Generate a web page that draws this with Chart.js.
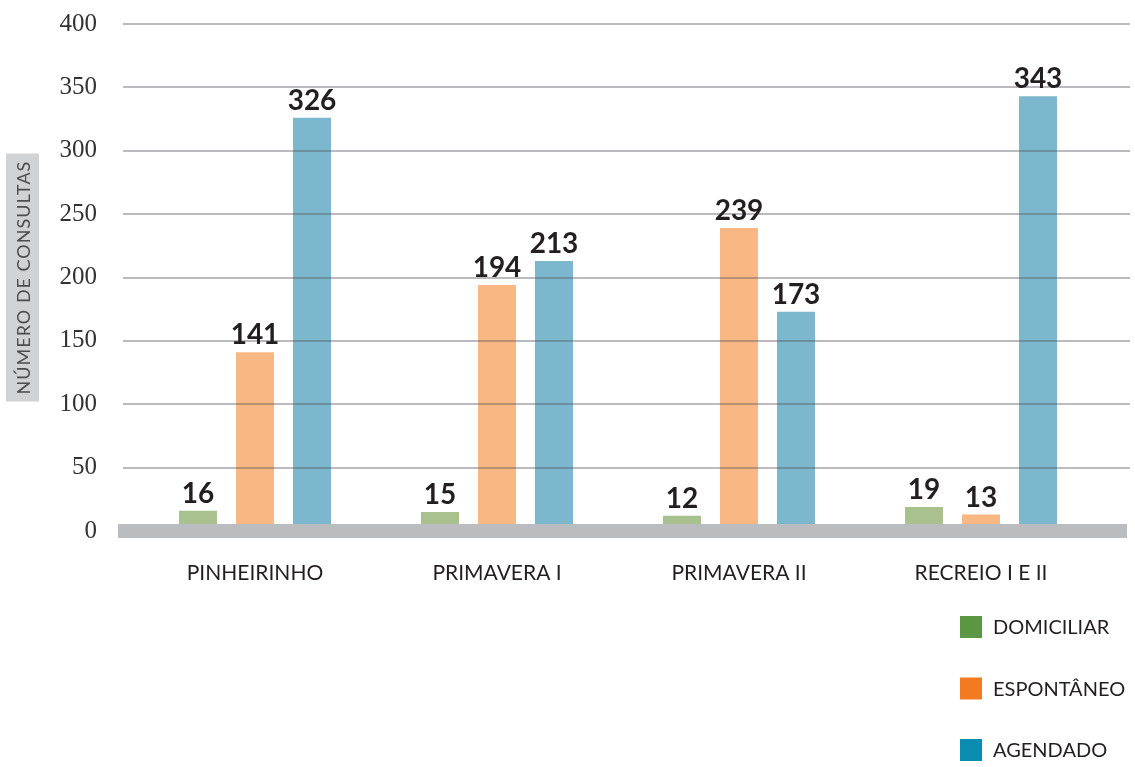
<!DOCTYPE html>
<html>
<head>
<meta charset="utf-8">
<script src="https://cdn.jsdelivr.net/npm/chart.js@4/dist/chart.umd.min.js"></script>
<style>
  html, body { margin: 0; padding: 0; background: #fff; }
  #wrap { width: 1135px; height: 767px; position: relative; }
</style>
</head>
<body>
<div id="wrap"><canvas id="chart" width="1135" height="767"></canvas></div>
<script>
// dados
var categorias = ['PINHEIRINHO', 'PRIMAVERA I', 'PRIMAVERA II', 'RECREIO I E II'];
var domiciliar = [16, 15, 12, 19];
var espontaneo = [141, 194, 239, 13];
var agendado = [326, 213, 173, 343];
var series = ['DOMICILIAR', 'ESPONTÂNEO', 'AGENDADO'];
var yMin = 0, yMax = 400, yStep = 50;
var tituloY = 'NÚMERO DE CONSULTAS';

var barColors = ['#a9c08f', '#f9b883', '#7db7cd'];
var legendColors = ['#5b9643', '#f47a20', '#0a8db0'];

// linhas de grade desenhadas por cima das barras, mais a faixa do zero
var gridPlugin = {
  id: 'gridPlugin',
  afterDatasetsDraw(chart) {
    var ctx = chart.ctx, a = chart.chartArea, y = chart.scales.y;
    ctx.save();
    ctx.strokeStyle = 'rgba(85,85,95,0.4)';
    ctx.lineWidth = 2;
    y.ticks.forEach(t => {
      if (t.value === 0) return;
      var py = Math.round(y.getPixelForValue(t.value));
      ctx.beginPath();
      ctx.moveTo(a.left - 11, py);
      ctx.lineTo(a.right + 28, py);
      ctx.stroke();
    });
    var y0 = y.getPixelForValue(0);
    ctx.fillStyle = '#bbbcc0';
    ctx.fillRect(a.left - 16, y0 - 7, a.right - a.left + 41, 14);
    ctx.restore();
  }
};

// rótulos de valor acima das barras
var valuePlugin = {
  id: 'valuePlugin',
  afterDraw(chart) {
    var ctx = chart.ctx;
    ctx.save();
    ctx.fillStyle = '#231f20';
    ctx.font = 'bold 28px Lato';
    ctx.textAlign = 'center';
    ctx.textBaseline = 'alphabetic';
    chart.data.datasets.forEach((ds, i) => {
      chart.getDatasetMeta(i).data.forEach((bar, j) => {
        ctx.fillText(String(ds.data[j]), bar.x, bar.y - 8);
      });
    });
    ctx.restore();
  }
};

// título do eixo y com caixa cinza e legenda vertical à direita
var extrasPlugin = {
  id: 'extrasPlugin',
  afterDraw(chart) {
    var ctx = chart.ctx, a = chart.chartArea;
    ctx.save();
    var cy = (a.top + a.bottom) / 2;
    ctx.fillStyle = '#d1d2d4';
    ctx.fillRect(6, cy - 124, 33, 248);
    ctx.translate(23, cy);
    ctx.rotate(-Math.PI / 2);
    ctx.fillStyle = '#4d4d4f';
    ctx.font = '18px Lato';
    ctx.letterSpacing = '1px';
    ctx.textAlign = 'center';
    ctx.textBaseline = 'middle';
    ctx.fillText(tituloY, 0, 1);
    ctx.restore();

    ctx.save();
    ctx.font = '20px Lato';
    ctx.textBaseline = 'middle';
    chart.data.datasets.forEach((ds, i) => {
      var ly = 627 + i * 61.5;
      ctx.fillStyle = legendColors[i];
      ctx.fillRect(960, ly - 11, 22, 22);
      ctx.fillStyle = '#231f20';
      ctx.fillText(ds.label, 993, ly + 1);
    });
    ctx.restore();
  }
};

new Chart(document.getElementById('chart'), {
  type: 'bar',
  data: {
    labels: categorias,
    datasets: [
      { label: series[0], data: domiciliar, backgroundColor: barColors[0] },
      { label: series[1], data: espontaneo, backgroundColor: barColors[1] },
      { label: series[2], data: agendado, backgroundColor: barColors[2] }
    ]
  },
  options: {
    responsive: false,
    animation: false,
    layout: { padding: { top: 24, right: 33, bottom: 180, left: 0 } },
    datasets: { bar: { categoryPercentage: 0.7066, barPercentage: 0.667 } },
    plugins: { legend: { display: false }, tooltip: { enabled: false } },
    scales: {
      x: {
        grid: { display: false },
        border: { display: false },
        ticks: { color: '#231f20', font: { family: 'Lato', size: 21 }, padding: 22 },
        afterFit(scale) { scale.height = 56; scale.paddingLeft = 0; scale.paddingRight = 0; }
      },
      y: {
        min: yMin,
        max: yMax,
        grid: { display: false },
        border: { display: false },
        ticks: { stepSize: yStep, color: '#333', font: { family: 'Liberation Serif', size: 25 }, padding: 29 },
        afterFit(scale) { scale.width = 134; scale.paddingTop = 0; scale.paddingBottom = 0; }
      }
    }
  },
  plugins: [gridPlugin, valuePlugin, extrasPlugin]
});
</script>
</body>
</html>
